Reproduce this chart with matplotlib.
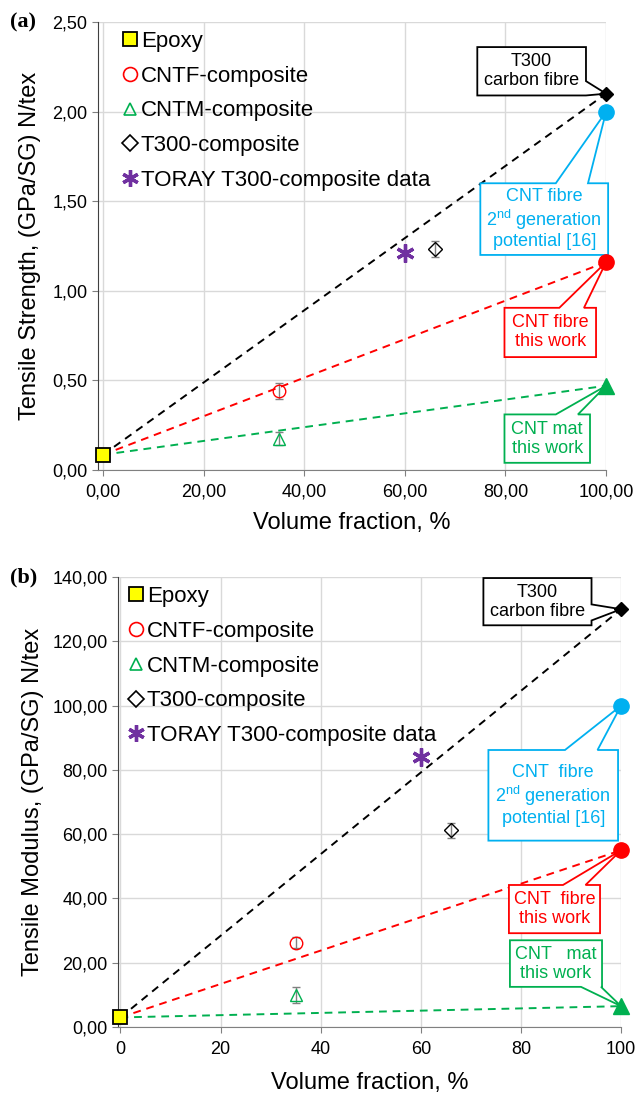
import matplotlib
matplotlib.use('Agg')
import matplotlib.pyplot as plt
from matplotlib.patches import Polygon
from matplotlib.lines import Line2D
from matplotlib.ticker import FuncFormatter

plt.rcParams['font.family'] = ['Liberation Sans', 'DejaVu Sans']
plt.rcParams['mathtext.fontset'] = 'custom'
plt.rcParams['mathtext.rm'] = 'Liberation Sans'
plt.rcParams['mathtext.it'] = 'Liberation Sans:italic'

# data
labels = ['Epoxy', 'CNTF-composite', 'CNTM-composite', 'T300-composite',
          'TORAY T300-composite data']
composite_vf = [0, 35, 35, 66, 60]
strength = [0.085, 0.44, 0.175, 1.235, 1.21]
strength_err = [0, 0.045, 0.035, 0.045, 0]
modulus = [3.0, 26.3, 10.0, 61.2, 84.0]
modulus_err = [0, 1.8, 2.5, 2.3, 0]

fibre_vf = 100
fibre_names = ['T300\ncarbon fibre', 'CNT fibre\n2$^{\\mathrm{nd}}$ generation\npotential [16]',
               'CNT fibre\nthis work', 'CNT mat\nthis work']
fibre_names_b = ['T300\ncarbon fibre', 'CNT  fibre\n2$^{\\mathrm{nd}}$ generation\npotential [16]',
                 'CNT  fibre\nthis work', 'CNT   mat\nthis work']
fibre_strength = [2.10, 2.00, 1.16, 0.47]
fibre_modulus = [130.0, 100.0, 55.0, 6.5]

# styles
comp_colors = ['black', '#FF0000', '#00B050', 'black', '#7030A0']
comp_markers = ['s', 'o', '^', 'D', (6, 2, 0)]
comp_ms = [10, 9, 8, 7, 13]
leg_ms = [10, 10, 9, 8, 12]
fibre_colors = ['black', '#00B0F0', '#FF0000', '#00B050']
fibre_markers = ['D', 'o', 'o', '^']
fibre_ms = [7, 11, 11, 11]
line_of = [0, 2, 3]   # fibres joined to epoxy by dashed lines

# callout boxes: (x0, x1, y0, y1), tail side, tail base (a, b)
boxes_a = [((74.4, 96.0, 2.09, 2.36), 'right', (2.17, 2.09)),
           ((75.0, 100.4, 1.20, 1.60), 'top', (90.0, 96.4)),
           ((79.8, 98.0, 0.63, 0.905), 'top', (90.7, 95.6)),
           ((79.8, 96.8, 0.04, 0.31), 'top', (90.0, 94.4))]
boxes_b = [((72.5, 94.1, 125.0, 139.7), 'right', (131.5, 126.5)),
           ((73.5, 99.4, 58.0, 86.2), 'top', (88.8, 95.3)),
           ((77.6, 95.8, 29.2, 44.2), 'top', (88.4, 92.9)),
           ((77.8, 96.2, 12.5, 27.0), 'bottom', (92.0, 96.0))]


def comma(fmt):
    return FuncFormatter(lambda v, _: fmt.format(v).replace('.', ','))


def callout(ax, box, side, base, point, text, color):
    x0, x1, y0, y1 = box
    a, b = base
    if side == 'top':
        verts = [(x0, y0), (x0, y1), (a, y1), point, (b, y1), (x1, y1), (x1, y0)]
    elif side == 'right':
        verts = [(x0, y0), (x0, y1), (x1, y1), (x1, a), point, (x1, b), (x1, y0)]
    else:
        verts = [(x0, y0), (x0, y1), (x1, y1), (x1, y0), (b, y0), point, (a, y0)]
    ax.add_patch(Polygon(verts, closed=True, fc='white', ec=color, lw=1.3,
                         zorder=5, clip_on=False))
    ax.text((x0 + x1) / 2, (y0 + y1) / 2, text, color=color, fontsize=13,
            ha='center', va='center', linespacing=1.15, zorder=6)


def legend_handles():
    hs = []
    for i in range(len(labels)):
        if i == 0:
            h = Line2D([], [], marker='s', ms=leg_ms[i], mfc='#FFFF00', mec='black',
                       mew=1.3, ls='none')
        elif i == 4:
            h = Line2D([], [], marker=comp_markers[i], ms=leg_ms[i], mew=2.4,
                       color=comp_colors[i], ls='none')
        else:
            h = Line2D([], [], marker=comp_markers[i], ms=leg_ms[i], mfc='none',
                       mec=comp_colors[i], mew=1.2, ls='none')
        hs.append(h)
    return hs


def draw_panel(ax, vals, errs, fvals, names, boxes, leg_x):
    # dashed rule-of-mixtures lines from epoxy to each fibre
    for i in line_of:
        ax.plot([composite_vf[0], fibre_vf], [vals[0], fvals[i]], ls=(0, (4, 3)),
                color=fibre_colors[i], lw=1.4, zorder=3)
    for i, name in enumerate(names):
        callout(ax, boxes[i][0], boxes[i][1], boxes[i][2], (fibre_vf, fvals[i]),
                name, fibre_colors[i])
        ax.plot(fibre_vf, fvals[i], marker=fibre_markers[i], ms=fibre_ms[i],
                color=fibre_colors[i], ls='none', zorder=7, clip_on=False)

    # composites
    ax.plot(composite_vf[0], vals[0], 's', ms=comp_ms[0], mfc='#FFFF00', mec='black',
            mew=1.3, ls='none', zorder=8, clip_on=False)
    for i in [1, 2, 3]:
        ax.errorbar(composite_vf[i], vals[i], yerr=errs[i], fmt=comp_markers[i],
                    ms=comp_ms[i], mfc='none', mec=comp_colors[i], ecolor='#808080',
                    capsize=3, elinewidth=1, zorder=8)
    ax.plot(composite_vf[4], vals[4], marker=comp_markers[4], ms=comp_ms[4], mew=2.4,
            color=comp_colors[4], ls='none', zorder=8)

    ax.legend(legend_handles(), labels, loc='upper left', bbox_to_anchor=(leg_x, 1.0),
              frameon=False, fontsize=16, handlelength=0.7, handletextpad=0.15,
              labelspacing=0.62, borderaxespad=0.2, borderpad=0.2)

    ax.grid(True, color='#D9D9D9', lw=1)
    ax.set_axisbelow(True)
    for s in ['top', 'right']:
        ax.spines[s].set_visible(False)
    ax.spines['left'].set_color('#404040')
    ax.spines['bottom'].set_color('#808080')
    ax.tick_params(labelsize=13, length=4, color='#808080')
    ax.tick_params(axis='x', pad=6)
    ax.set_xticks([0, 20, 40, 60, 80, 100])
    ax.set_xlabel('Volume fraction, %', fontsize=17)


fig = plt.figure(figsize=(6.36, 10.94), dpi=100)

ax1 = fig.add_axes([0.154, 0.5704, 0.799, 0.4095])
draw_panel(ax1, strength, strength_err, fibre_strength, fibre_names, boxes_a, 0.03)
ax1.set_xlim(-1, 100)
ax1.set_ylim(0, 2.5)
ax1.set_yticks([0, 0.5, 1.0, 1.5, 2.0, 2.5])
ax1.yaxis.set_major_formatter(comma('{:.2f}'))
ax1.xaxis.set_major_formatter(comma('{:.2f}'))
ax1.set_ylabel('Tensile Strength, (GPa/SG) N/tex', fontsize=17, labelpad=8)
ax1.xaxis.labelpad = 8

ax2 = fig.add_axes([0.1855, 0.0612, 0.791, 0.4113])
draw_panel(ax2, modulus, modulus_err, fibre_modulus, fibre_names_b, boxes_b, 0.002)
ax2.set_xlim(-0.5, 100)
ax2.set_ylim(0, 140)
ax2.set_yticks(range(0, 141, 20))
ax2.yaxis.set_major_formatter(comma('{:.2f}'))
ax2.set_ylabel('Tensile Modulus, (GPa/SG) N/tex', fontsize=17, labelpad=6)
ax2.xaxis.labelpad = 10

fig.text(0.015, 1 - 22 / 1094, '(a)', fontsize=16, fontweight='bold',
         family='Liberation Serif', va='center')
fig.text(0.015, 1 - 577 / 1094, '(b)', fontsize=16, fontweight='bold',
         family='Liberation Serif', va='center')

fig.savefig('out.png', dpi=100)
